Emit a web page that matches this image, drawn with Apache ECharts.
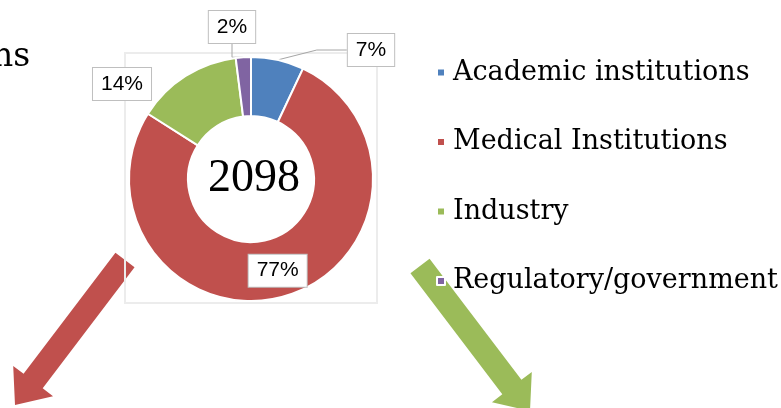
<!DOCTYPE html>
<html>
<head>
<meta charset="utf-8">
<script src="https://cdn.jsdelivr.net/npm/echarts@6/dist/echarts.min.js"></script>
<style>
html, body { margin: 0; padding: 0; background: #fff; }
#main { width: 781px; height: 408px; }
</style>
</head>
<body>
<div id="main"></div>
<script>
// data
var categories = ['Academic institutions', 'Medical Institutions', 'Industry', 'Regulatory/government'];
var counts = [147, 1615, 294, 42];
var colors = ['#4F81BD', '#C0504D', '#9BBB59', '#8064A2'];

// where the outside percent boxes sit (label centres, px)
var labelSpots = {
    'Academic institutions': [371, 50],
    'Industry': [122, 84],
    'Regulatory/government': [232, 27]
};

var total = 0;
for (var i = 0; i < counts.length; i++) {
    total += counts[i];
}

var pieData = [];
for (var i = 0; i < categories.length; i++) {
    var item = {
        name: categories[i],
        value: counts[i],
        itemStyle: { color: colors[i] }
    };
    if (categories[i] === 'Medical Institutions') {
        item.label = { position: 'inside' };
    }
    if (categories[i] === 'Industry') {
        item.labelLine = { show: false };
    }
    pieData.push(item);
}

// arrow polygon from top centre to tip
function arrowPoints(tx, ty, px, py, w, W, H) {
    var dx = px - tx, dy = py - ty;
    var len = Math.sqrt(dx * dx + dy * dy);
    dx /= len; dy /= len;
    var nx = -dy, ny = dx;
    var bx = px - dx * H, by = py - dy * H;
    return [
        [tx + nx * w, ty + ny * w],
        [bx + nx * w, by + ny * w],
        [bx + nx * W, by + ny * W],
        [px, py],
        [bx - nx * W, by - ny * W],
        [bx - nx * w, by - ny * w],
        [tx - nx * w, ty - ny * w]
    ];
}

var chart = echarts.init(document.getElementById('main'));
var option = {
    backgroundColor: '#fff',
    animation: false,
    title: {
        text: String(total),
        left: 249,
        top: 151,
        textAlign: 'center',
        textStyle: {
            fontFamily: 'Liberation Serif',
            fontSize: 46,
            fontWeight: 'normal',
            color: '#000'
        }
    },
    legend: {
        orient: 'vertical',
        left: 431,
        top: 54,
        itemGap: 42.5,
        itemWidth: 8,
        itemHeight: 8,
        icon: 'rect',
        selectedMode: false,
        textStyle: {
            fontFamily: 'DejaVu Serif',
            fontSize: 27,
            color: '#000',
            padding: [0, 0, 0, 3]
        },
        data: categories
    },
    graphic: [
        {
            type: 'text',
            left: -8,
            top: 41,
            style: {
                text: 'ns',
                font: '33px "DejaVu Serif"',
                fill: '#000'
            }
        },
        {
            type: 'polygon',
            z: 0,
            shape: { points: arrowPoints(125, 260, 15, 405, 12, 25, 30) },
            style: { fill: '#C0504D' }
        },
        {
            type: 'polygon',
            z: 0,
            shape: { points: arrowPoints(420, 266, 530, 411, 12, 25, 30) },
            style: { fill: '#9BBB59' }
        },
        {
            type: 'rect',
            z: 1,
            shape: { x: 125, y: 53, width: 252, height: 250 },
            style: { fill: 'none', stroke: '#ececec', lineWidth: 2 }
        }
    ],
    series: [
        {
            type: 'pie',
            center: [251, 179],
            radius: [63, 122],
            startAngle: 90,
            clockwise: true,
            avoidLabelOverlap: false,
            itemStyle: {
                borderColor: '#fff',
                borderWidth: 2
            },
            label: {
                show: true,
                position: 'outside',
                formatter: function (p) {
                    return Math.round(p.percent) + '%';
                },
                fontFamily: 'Liberation Sans',
                fontSize: 21,
                color: '#000',
                backgroundColor: '#fff',
                borderColor: '#bfbfbf',
                borderWidth: 1,
                padding: [6, 8, 5, 8]
            },
            labelLine: {
                show: true,
                length: 6,
                length2: 30,
                lineStyle: { color: '#a6a6a6', width: 1 }
            },
            labelLayout: function (params) {
                var spot = labelSpots[categories[params.dataIndex]];
                if (!spot) {
                    return {};
                }
                return {
                    x: spot[0],
                    y: spot[1],
                    align: 'center',
                    verticalAlign: 'middle'
                };
            },
            data: pieData
        }
    ]
};
chart.setOption(option);
</script>
</body>
</html>
